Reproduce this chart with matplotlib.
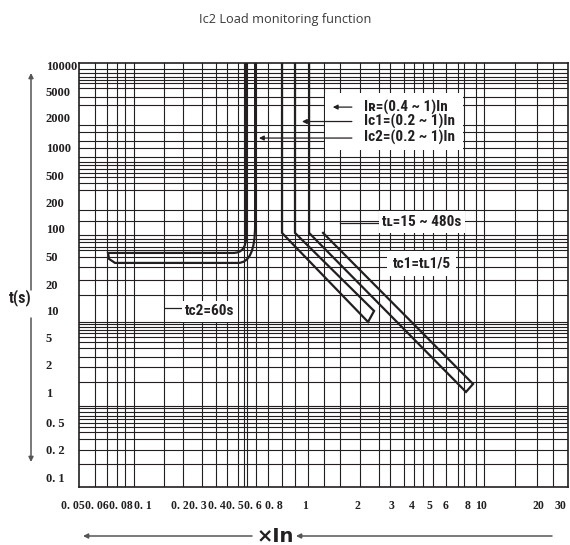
import numpy as np
import matplotlib
matplotlib.use('Agg')
import matplotlib.pyplot as plt
from matplotlib.path import Path
from matplotlib.patches import PathPatch, Rectangle, FancyArrowPatch
from matplotlib.ticker import FixedLocator, FixedFormatter, NullLocator

#tick values and labels
xticks=[0.05,0.06,0.08,0.1,0.2,0.3,0.4,0.5,0.6,0.8,1,2,3,4,5,6,8,10,20,30]
xlabels=['0. 05','0. 06','0. 08','0. 1','0. 2','0. 3','0. 4','0. 5','0. 6','0. 8','1','2','3','4','5','6','8','10','20','30']
yticks=[10000,5000,2000,1000,500,200,100,50,20,10,5,2,1,0.5,0.2,0.1]
ylabels=['10000','5000','2000','1000','500','200','100','50','20','10','5','2','1','0. 5','0. 2','0. 1']

#grid lines of the chart paper
xgrid=[0.059,0.0677,0.0762,0.0833,0.0913,0.148,0.214,0.319,0.394,0.453,0.516,0.548,0.565,0.625,0.737,
       0.847,0.930,1.041,1.288,1.594,2.07,2.60,2.96,3.58,4.11,4.62,5.23,6.08,7.11,7.69,9.23,10.4,15.1,19.8,26.4]
ygrid=[9200,8300,7500,6900,6400,5600,4200,3200,1700,1450,1170,1000,
       800,710,660,590,540,480,390,310,166,124,
       86,78,72,64,59,50,36,23.5,15.3,
       7.5,7.2,6.6,6.1,5.7,5.1,4.4,3.6,2.6,1.9,1.3,
       0.74,0.71,0.65,0.59,0.55,0.50,0.44,0.37,0.29,0.20,0.14]

#Ic2 band (current, time) : down inner line, left end, back up outer line
ic2_x=[0.559,0.559,0.559,0.488,0.0684,0.0693,0.0744,0.516,0.617,0.617,0.617]
ic2_y=[20000,82,55.2,55.2,55.2,46.8,41.1,41.1,41.1,111,20000]
#Ic1 / IR bands
b1_x=[0.847,0.847,2.28,2.45,0.930,0.930]
b1_y=[20000,90.6,7.54,10,90.6,20000]
b2_x=[1.055,1.055,7.89,8.80,1.271]
b2_y=[20000,90.6,1.025,1.25,90.6]

# the printed paper is not a clean log grid, so the scale goes through the label positions
xk_val=[0.04,0.05,0.06,0.08,0.1,0.2,0.3,0.4,0.5,0.6,0.8,1,2,3,4,5,6,8,10,20,30,40]
xk_pix=[44,73,97,121,143,180,198,217,235,253,274,305,357,391,412,429,445,467,481,538,560,576]
yk_val=[0.05,0.1,0.2,0.5,1,2,5,10,20,50,100,200,500,1000,2000,5000,10000,20000]
yk_pix=[506,478,450,423,393,365,338,311,285,257,229,203,176,148,118,92,66,40]

lxk=np.log10(xk_val); pxk=np.array(xk_pix,float)
lyk=np.log10(yk_val); pyk=-np.array(yk_pix,float)

def fx(v):
    return np.interp(np.log10(np.clip(v,1e-9,None)),lxk,pxk)
def ix(p):
    return 10**np.interp(p,pxk,lxk)
def fy(v):
    return np.interp(np.log10(np.clip(v,1e-9,None)),lyk,pyk)
def iy(p):
    return 10**np.interp(p,pyk,lyk)

col='#231f20'
txtfam=['Roboto Condensed','Roboto','DejaVu Sans']
fs=11

fig=plt.figure(figsize=(5.7,5.45),dpi=100)
ax=fig.add_axes([79/570,58/545,489/570,424/545])
ax.set_xscale('function',functions=(fx,ix))
ax.set_yscale('function',functions=(fy,iy))
ax.set_xlim(0.0523,34.6)
ax.set_ylim(0.08,10800)

for v in xgrid:
    ax.axvline(v,color=col,lw=0.8,zorder=1)
for v in ygrid:
    ax.axhline(v,color=col,lw=0.8,zorder=1)

ax.xaxis.set_major_locator(NullLocator())
ax.xaxis.set_minor_locator(NullLocator())
ax.yaxis.set_major_locator(FixedLocator(yticks))
ax.yaxis.set_major_formatter(FixedFormatter(ylabels))
ax.yaxis.set_minor_locator(NullLocator())
ax.tick_params(length=0,labelsize=9,colors=col)
ax.tick_params(axis='y',pad=23.8)
for t in ax.get_yticklabels():
    t.set_fontfamily('Liberation Serif')
    t.set_fontweight('bold')
    t.set_horizontalalignment('left')
# x labels drawn by hand, 0.05 sits left of the frame
for v,l in zip(xticks,xlabels):
    ax.text(v,-0.045,l,transform=ax.get_xaxis_transform(),ha='center',va='center',fontsize=8.5,
            family='Liberation Serif',fontweight='bold',color=col,clip_on=False)
for s in ax.spines.values():
    s.set_color(col)
    s.set_linewidth(1.2)

codes=[Path.MOVETO,Path.LINETO,Path.CURVE3,Path.CURVE3,Path.LINETO,Path.LINETO,Path.LINETO,Path.LINETO,Path.CURVE3,Path.CURVE3,Path.LINETO]
ax.add_patch(PathPatch(Path(np.column_stack([ic2_x,ic2_y]),codes),fill=False,ec=col,lw=1.6,zorder=3,transform=ax.transData))
ax.plot(b1_x,b1_y,color=col,lw=1.6,zorder=3,solid_joinstyle='miter')
ax.plot(b2_x,b2_y,color=col,lw=1.6,zorder=3,solid_joinstyle='miter')

#labels with white backing
ax.add_patch(Rectangle((0.503,0.795),0.282,0.134,transform=ax.transAxes,fc='white',ec='none',zorder=2))
ax.text(0.582,0.896,'I\u0280=(0.4 ~ 1)In',transform=ax.transAxes,va='center',fontsize=fs,fontweight='bold',family=txtfam,color=col,zorder=4)
ax.text(0.582,0.862,'Ic1=(0.2 ~ 1)In',transform=ax.transAxes,va='center',fontsize=fs,fontweight='bold',family=txtfam,color=col,zorder=4)
ax.text(0.582,0.825,'Ic2=(0.2 ~ 1)In',transform=ax.transAxes,va='center',fontsize=fs,fontweight='bold',family=txtfam,color=col,zorder=4)
ap=dict(arrowstyle='-|>',color=col,lw=0.9,mutation_scale=7,shrinkA=0,shrinkB=0)
ax.annotate('',xy=(0.519,0.896),xytext=(0.558,0.896),xycoords='axes fraction',arrowprops=ap,zorder=4)
ax.annotate('',xy=(0.456,0.862),xytext=(0.558,0.862),xycoords='axes fraction',arrowprops=ap,zorder=4)
ax.annotate('',xy=(0.368,0.823),xytext=(0.558,0.823),xycoords='axes fraction',arrowprops=ap,zorder=4)

bb=dict(fc='white',ec='none',pad=2.5)
ax.plot([0.534,0.620],[0.623,0.623],transform=ax.transAxes,color=col,lw=0.9,zorder=4)
ax.text(0.620,0.625,'t\u029f=15 ~ 480s',transform=ax.transAxes,va='center',fontsize=fs,fontweight='bold',family=txtfam,color=col,bbox=bb,zorder=4)
ax.text(0.641,0.528,'tc1=t\u029f1/5',transform=ax.transAxes,va='center',fontsize=fs,fontweight='bold',family=txtfam,color=col,bbox=dict(fc='white',ec='none',pad=4),zorder=4)
ax.plot([0.176,0.213],[0.422,0.422],transform=ax.transAxes,color=col,lw=0.9,zorder=4)
ax.text(0.217,0.415,'tc2=60s',transform=ax.transAxes,va='center',fontsize=fs,fontweight='bold',family=txtfam,color=col,bbox=bb,zorder=4)

#axis titles and arrows outside the frame
fig.text(0.5,(545-19)/545,'Ic2 Load monitoring function',ha='center',va='center',fontsize=9.2,family='Open Sans',color='#3a3a3a')
fig.text(20/570,(545-298)/545,'t(s)',ha='center',va='center',fontsize=11.5,fontweight='bold',family=txtfam,color=col)
ga=dict(arrowstyle='-|>',color='#555555',lw=1.1,mutation_scale=7,shrinkA=0,shrinkB=0)
fig.add_artist(FancyArrowPatch((31/570,(545-290)/545),(31/570,(545-73)/545),transform=fig.transFigure,**ga))
fig.add_artist(FancyArrowPatch((31/570,(545-318)/545),(31/570,(545-462)/545),transform=fig.transFigure,**ga))
fig.text(275/570,(545-536)/545,'\u00d7In',ha='center',va='center',fontsize=14,fontweight='bold',family='DejaVu Sans',color=col)
fig.add_artist(FancyArrowPatch((252/570,(545-536)/545),(83/570,(545-536)/545),transform=fig.transFigure,**ga))
fig.add_artist(FancyArrowPatch((552/570,(545-536)/545),(296/570,(545-536)/545),transform=fig.transFigure,**ga))

plt.savefig('out.png',dpi=100)
